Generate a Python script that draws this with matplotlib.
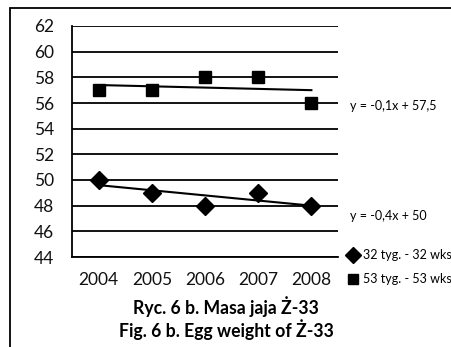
import matplotlib
matplotlib.use("Agg")
import matplotlib.pyplot as plt
import numpy as np
from matplotlib.patches import Rectangle
from matplotlib.lines import Line2D

plt.rcParams['font.family'] = ['Lato', 'DejaVu Sans']

years = ["2004", "2005", "2006", "2007", "2008"]
wks32 = [50, 49, 48, 49, 48]
wks53 = [57, 57, 58, 58, 56]
label32 = "32 tyg. - 32 wks"
label53 = "53 tyg. - 53 wks"
eq53 = "y = -0,1x + 57,5"
eq32 = "y = -0,4x + 50"
yticks = list(range(44, 63, 2))
caption1 = "Ryc. 6 b. Masa jaja Ż-33"
caption2 = "Fig. 6 b. Egg weight of Ż-33"

W, H = 452, 347
fig = plt.figure(figsize=(W / 100, H / 100), dpi=100)
fig.patch.set_facecolor("white")

# outer frame
fig.patches.append(Rectangle((10 / W, -0.05), 1.2, (H - 8) / H + 0.05,
                             transform=fig.transFigure, fill=False,
                             edgecolor="black", linewidth=1.3))

ax = fig.add_axes([72 / W, (H - 257) / H, (338 - 72) / W, (257 - 26) / H])
x = np.arange(1, len(years) + 1)

ax.set_ylim(44, 62)
ax.set_xlim(0.5, 5.5)
ax.set_yticks(yticks)
ax.set_xticks(x)
ax.set_xticklabels(years)
ax.yaxis.grid(True, color="black", linewidth=1.3)
ax.set_axisbelow(True)
for s in ["top", "right"]:
    ax.spines[s].set_visible(False)
for s in ["left", "bottom"]:
    ax.spines[s].set_linewidth(1.3)
ax.tick_params(length=0, labelsize=12.5, colors="#111111")
ax.tick_params(axis="y", pad=13)
ax.tick_params(axis="x", pad=11)

# trend lines (least squares)
for vals in (wks32, wks53):
    k, b = np.polyfit(x, vals, 1)
    ax.plot(x, k * x + b, color="black", linewidth=1.5, zorder=3)

ax.plot(x, wks32, linestyle="none", marker="D", markersize=9,
        color="black", zorder=4, clip_on=False)
ax.plot(x, wks53, linestyle="none", marker="s", markersize=9,
        color="black", zorder=4, clip_on=False)

fig.text(350 / W, 1 - 106 / H, eq53, fontsize=9, va="center", ha="left")
fig.text(350 / W, 1 - 216 / H, eq32, fontsize=9, va="center", ha="left")

h32 = Line2D([], [], linestyle="none", marker="D", markersize=8.5,
             color="black", label=label32)
h53 = Line2D([], [], linestyle="none", marker="s", markersize=6.5,
             color="black", label=label53)
fig.legend(handles=[h32, h53], loc="upper left",
           bbox_to_anchor=(347 / W, 1 - 249 / H), frameon=False,
           fontsize=9, handlelength=1.0, handletextpad=0.3,
           labelspacing=0.95, borderpad=0, borderaxespad=0)

fig.text(226 / W, 1 - 307 / H, caption1, fontsize=12.7, fontweight="bold",
         ha="center", va="center")
fig.text(226 / W, 1 - 330 / H, caption2, fontsize=12.7, fontweight="bold",
         ha="center", va="center")

fig.savefig("out.png", dpi=100, facecolor="white")
